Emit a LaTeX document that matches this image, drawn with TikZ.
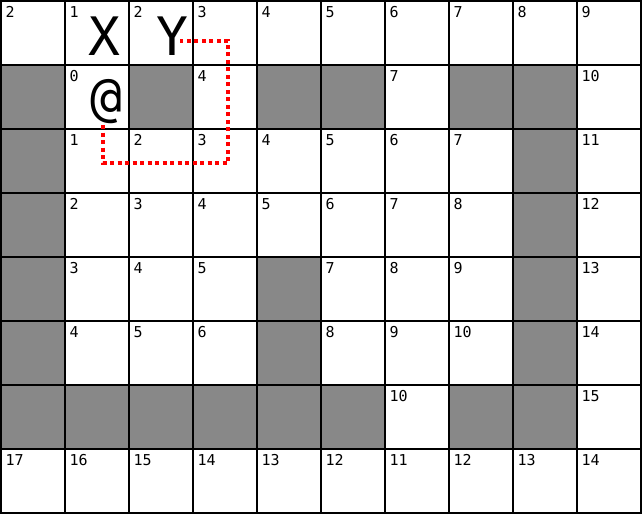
\documentclass[tikz,border=0pt]{standalone}
\usepackage{fontspec}
\setmonofont{DejaVu Sans Mono}
\definecolor{wallgray}{RGB}{136,136,136}
\begin{document}
\begin{tikzpicture}[x=1pt,y=-1pt,
  cellnum/.style={anchor=base west,inner sep=0pt,font=\fontsize{15}{15}\selectfont\ttfamily},
  bigchar/.style={anchor=base,inner sep=0pt,font=\fontsize{53}{53}\selectfont\ttfamily},
  wall/.style={fill=wallgray},
  gridline/.style={line width=2pt,black},
  route/.style={red,line width=4pt,dash pattern=on 4pt off 3.5pt}]
\useasboundingbox (0,0) rectangle (642,514);
\fill[white] (0,0) rectangle (642,514);
% walls
\foreach \c/\r in {0/1,2/1,4/1,5/1,7/1,8/1,0/2,8/2,0/3,8/3,0/4,4/4,8/4,0/5,4/5,8/5,0/6,1/6,2/6,3/6,4/6,5/6,7/6,8/6}
  \fill[wall] ({1+64*\c},{1+64*\r}) rectangle +(64,64);
% grid
\foreach \i in {0,...,10} \draw[gridline] ({1+64*\i},0) -- ({1+64*\i},514);
\foreach \j in {0,...,8} \draw[gridline] (0,{1+64*\j}) -- (642,{1+64*\j});
% numbers
\foreach \c/\r/\t in {0/0/2,1/0/1,2/0/2,3/0/3,4/0/4,5/0/5,6/0/6,7/0/7,8/0/8,9/0/9,
  1/1/0,3/1/4,6/1/7,9/1/10,
  1/2/1,2/2/2,3/2/3,4/2/4,5/2/5,6/2/6,7/2/7,9/2/11,
  1/3/2,2/3/3,3/3/4,4/3/5,5/3/6,6/3/7,7/3/8,9/3/12,
  1/4/3,2/4/4,3/4/5,5/4/7,6/4/8,7/4/9,9/4/13,
  1/5/4,2/5/5,3/5/6,5/5/8,6/5/9,7/5/10,9/5/14,
  6/6/10,9/6/15,
  0/7/17,1/7/16,2/7/15,3/7/14,4/7/13,5/7/12,6/7/11,7/7/12,8/7/13,9/7/14}
  \node[cellnum] (n\c-\r) at ({5.5+64*\c},{17.5+64*\r}) {\t};
% big characters
\node[bigchar] (X) at (104.5,55) {X};
\node[bigchar] (Y) at (172,55) {Y};
\node[bigchar] (A) at (106,115) {@};
% route
\coordinate (r0) at (103,125);
\coordinate (r1) at (103,163);
\coordinate (r2) at (228,163);
\coordinate (r3) at (228,41);
\coordinate (r4) at (180,41);
\draw[route] (r0) -- (r1) -- (r2) -- (r3) -- (r4);
\end{tikzpicture}
\end{document}
